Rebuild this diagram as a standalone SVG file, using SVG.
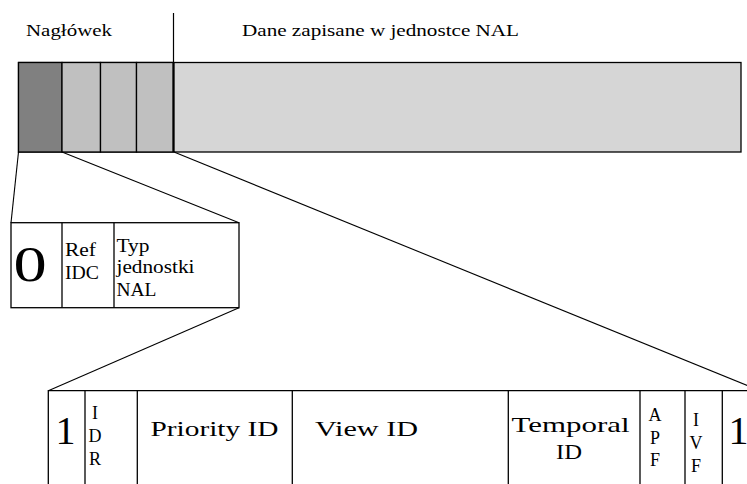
<svg xmlns="http://www.w3.org/2000/svg" width="747" height="484" viewBox="0 0 747 484" font-family="'Liberation Serif', 'DejaVu Serif', serif">
  <style>
    text { font-family: 'Liberation Serif', 'DejaVu Serif', serif; fill: #000; }
    .cell { stroke: #000; stroke-width: 1.3; }
    .edge { stroke: #000; stroke-width: 1.1; fill: none; }
    .lbl { font-size: 16px; }
    .small { font-size: 18px; }
    .mid { font-size: 21px; }
    .big { font-size: 40px; }
  </style>
  <rect width="747" height="484" fill="#fff"/>

  <!-- labels above the NAL unit -->
  <g id="labels">
    <text class="lbl" x="26" y="36" textLength="86" lengthAdjust="spacingAndGlyphs">Nagłówek</text>
    <text class="lbl" x="242" y="36" textLength="277" lengthAdjust="spacingAndGlyphs">Dane zapisane w jednostce NAL</text>
    <line x1="173.5" y1="13" x2="173.5" y2="62" stroke="#000" stroke-width="1.2"/>
  </g>

  <!-- NAL unit: header bytes followed by payload -->
  <g id="nal-unit">
    <rect class="cell" x="18.5" y="62.5" width="722.5" height="89.5" fill="#d6d6d6"/>
    <rect class="cell" x="18.5" y="62.5" width="43.5" height="89.5" fill="#808080"/>
    <rect class="cell" x="62" y="62.5" width="38.5" height="89.5" fill="#c0c0c0"/>
    <rect class="cell" x="100.5" y="62.5" width="36" height="89.5" fill="#c0c0c0"/>
    <rect class="cell" x="136.5" y="62.5" width="37" height="89.5" fill="#c0c0c0"/>
    <line x1="173.5" y1="62.5" x2="173.5" y2="152" stroke="#000" stroke-width="2.2"/>
  </g>

  <!-- first header byte expanded -->
  <g id="header-byte">
    <rect class="cell" x="11" y="222.7" width="228" height="85" fill="#fff"/>
    <line class="cell" x1="62" y1="222.7" x2="62" y2="307.7"/>
    <line class="cell" x1="114" y1="222.7" x2="114" y2="307.7"/>
    <text transform="translate(13.5,281) scale(1.33,1)" style="font-size:50px">0</text>
    <text class="small" x="65" y="256" textLength="31" lengthAdjust="spacingAndGlyphs">Ref</text>
    <text class="small" x="65" y="278.7" textLength="34" lengthAdjust="spacingAndGlyphs">IDC</text>
    <text class="small" x="116.5" y="251.7" textLength="33" lengthAdjust="spacingAndGlyphs">Typ</text>
    <text class="small" x="116.5" y="273.3" textLength="78" lengthAdjust="spacingAndGlyphs">jednostki</text>
    <text class="small" x="116.5" y="295.7" textLength="40" lengthAdjust="spacingAndGlyphs">NAL</text>
  </g>

  <!-- MVC extension header fields -->
  <g id="extension-header">
    <path class="cell" d="M48.3 484 V390.7 H760" fill="none"/>
    <line class="cell" x1="85" y1="390.7" x2="85" y2="484"/>
    <line class="cell" x1="137.3" y1="390.7" x2="137.3" y2="484"/>
    <line class="cell" x1="292.3" y1="390.7" x2="292.3" y2="484"/>
    <line class="cell" x1="508.3" y1="390.7" x2="508.3" y2="484"/>
    <line class="cell" x1="640" y1="390.7" x2="640" y2="484"/>
    <line class="cell" x1="685" y1="390.7" x2="685" y2="484"/>
    <line class="cell" x1="722.3" y1="390.7" x2="722.3" y2="484"/>
    <text class="big" x="65.5" y="444" text-anchor="middle">1</text>
    <text class="small" x="95" y="419" text-anchor="middle">I</text>
    <text class="small" x="95" y="442" text-anchor="middle">D</text>
    <text class="small" x="95" y="464.5" text-anchor="middle">R</text>
    <text class="mid" x="150.5" y="436" textLength="128" lengthAdjust="spacingAndGlyphs">Priority ID</text>
    <text class="mid" x="315" y="436" textLength="103" lengthAdjust="spacingAndGlyphs">View ID</text>
    <text class="mid" x="511.5" y="431.7" textLength="118" lengthAdjust="spacingAndGlyphs">Temporal</text>
    <text class="mid" x="556" y="459" textLength="26" lengthAdjust="spacingAndGlyphs">ID</text>
    <text class="small" x="655" y="421" text-anchor="middle">A</text>
    <text class="small" x="655" y="443.5" text-anchor="middle">P</text>
    <text class="small" x="655" y="466" text-anchor="middle">F</text>
    <text class="small" x="696" y="426" text-anchor="middle">I</text>
    <text class="small" x="696" y="448.5" text-anchor="middle">V</text>
    <text class="small" x="696" y="471.5" text-anchor="middle">F</text>
    <text class="big" x="738.5" y="444" text-anchor="middle">1</text>
  </g>

  <!-- zoom-in connectors -->
  <g id="connectors">
    <line class="edge" x1="18.5" y1="152" x2="11" y2="222.7"/>
    <line class="edge" x1="62" y1="152" x2="239" y2="222.7"/>
    <line class="edge" x1="174" y1="152" x2="760" y2="390.7"/>
    <line class="edge" x1="239" y1="307.7" x2="48.3" y2="390.7"/>
  </g>
</svg>
